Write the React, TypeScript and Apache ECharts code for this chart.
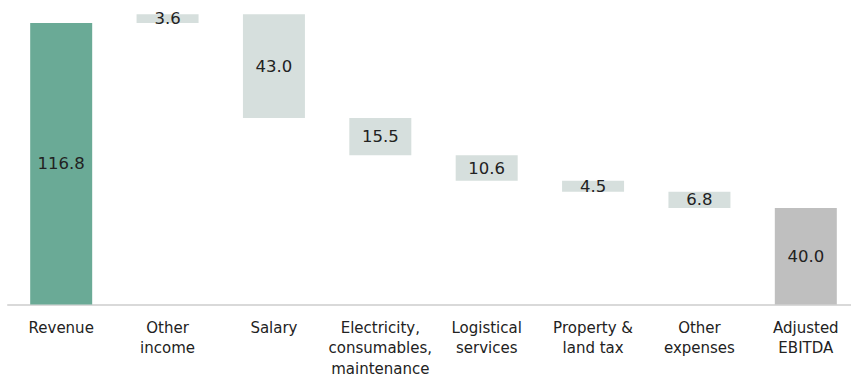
import React, { useEffect, useRef } from "react";
import * as echarts from "echarts";

const categories = [
  "Revenue",
  "Other\nincome",
  "Salary",
  "Electricity,\nconsumables,\nmaintenance",
  "Logistical\nservices",
  "Property &\nland tax",
  "Other\nexpenses",
  "Adjusted\nEBITDA",
];
// signed changes; first and last are totals
const changes = [116.8, 3.6, -43.0, -15.5, -10.6, -4.5, -6.8, 40.0];
const barColors = ["#6aaa96", "#d6dfdd", "#d6dfdd", "#d6dfdd", "#d6dfdd", "#d6dfdd", "#d6dfdd", "#bfbfbf"];

export default function App() {
  const ref = useRef<HTMLDivElement>(null);
  useEffect(() => {
    if (!ref.current) return;
    const chart = echarts.init(ref.current, null, { renderer: "svg" });
    const base: number[] = [];
    const heights: number[] = [];
    let running = 0;
    changes.forEach((c, i) => {
      if (i === 0 || i === changes.length - 1) {
        base.push(0);
        heights.push(Math.abs(c));
        running = c;
      } else if (c >= 0) {
        base.push(running);
        heights.push(c);
        running += c;
      } else {
        running += c;
        base.push(running);
        heights.push(-c);
      }
    });
    chart.setOption({
      animation: false,
      grid: { left: 8, right: 0, top: 0, bottom: 73 },
      xAxis: {
        type: "category",
        data: categories,
        axisLine: { lineStyle: { color: "#d9d9d9", width: 2 } },
        axisTick: { show: false },
        axisLabel: {
          color: "#222",
          fontFamily: "DejaVu Sans",
          fontSize: 15,
          lineHeight: 20.5,
          margin: 13,
          interval: 0,
        },
      },
      yAxis: {
        type: "value",
        min: 0,
        max: 126.3,
        show: false,
        splitLine: { show: false },
      },
      series: [
        {
          type: "bar",
          stack: "wf",
          data: base,
          barWidth: 62,
          itemStyle: { color: "transparent" },
          silent: true,
        },
        {
          type: "bar",
          stack: "wf",
          barWidth: 62,
          data: heights.map((h, i) => ({ value: h, itemStyle: { color: barColors[i] } })),
          label: {
            show: true,
            position: "inside",
            color: "#222",
            fontFamily: "DejaVu Sans",
            fontSize: 16.5,
            formatter: (p: any) => Number(p.value).toFixed(1),
          },
        },
      ],
    });
    return () => chart.dispose();
  }, []);
  return (
    <div style={{ position: "absolute", left: 0, top: 0, width: 851, height: 379, overflow: "hidden" }}>
      <div ref={ref} style={{ width: 859, height: 379 }} />
    </div>
  );
}
